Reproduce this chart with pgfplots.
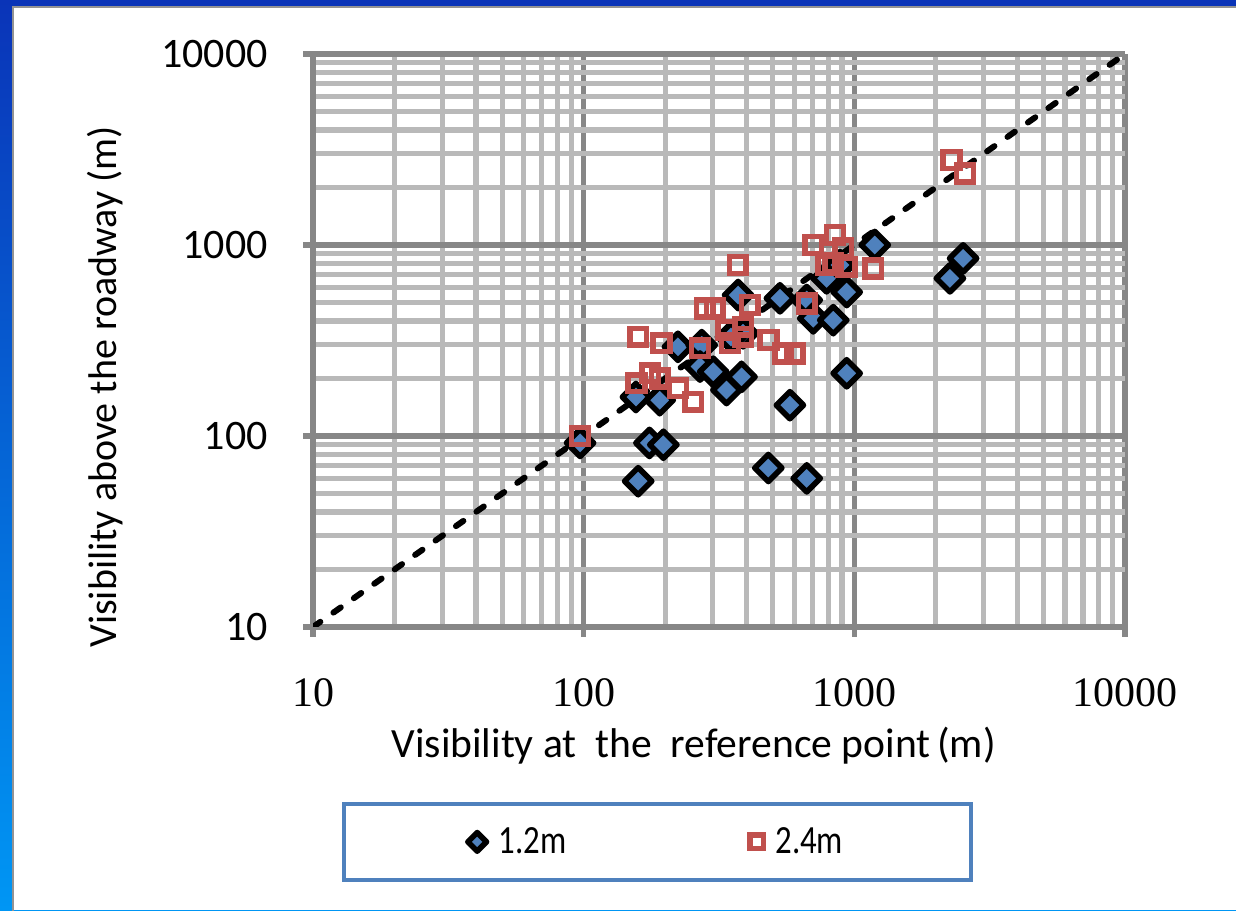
\documentclass[border=0pt]{standalone}
\usepackage{fontspec}
\setmainfont{Carlito}
\newfontfamily\serifnum{Liberation Serif}
\newfontfamily\legfont[FakeStretch=0.82]{Carlito}
\usepackage{pgfplots}
\pgfplotsset{compat=1.18}
\definecolor{excelblue}{HTML}{4F81BD}
\definecolor{excelred}{HTML}{C0504D}
\definecolor{majgray}{HTML}{878787}
\definecolor{mingray}{HTML}{B9B9B9}
\definecolor{bgdark}{HTML}{0A34B8}
\definecolor{bglight}{HTML}{0096F4}

\pgfplotstableread{
x y
97 92
159 58
175 92
197 90
156 160
191 154
223 293
273 299
269 231
301 217
337 174
383 204
372 547
388 345
350 330
531 526
578 145
481 68
667 60
667 515
705 413
836 404
790 669
937 567
937 213
1190 1000
885 785
2523 851
2255 669
}\lowdata

\pgfplotstableread{
x y
97 100
159 331
194 306
157 189
176 213
191 200
223 178
254 151
269 288
280 466
305 466
337 359
347 306
388 373
388 331
411 485
371 785
481 318
546 271
603 271
667 495
705 1000
848 1128
790 785
836 802
910 961
937 769
1175 755
2285 2786
2565 2371
}\highdata

\begin{document}
\begin{tikzpicture}
\shade[top color=bgdark, bottom color=bglight] (0,0) rectangle (618pt,455pt);
\fill[white] (6.5pt,0) rectangle (618pt,451.5pt);
\draw[gray!85, line width=1pt] (6.5pt,-1pt) -- (6.5pt,451.5pt) -- (620pt,451.5pt);
\begin{axis}[
  at={(156.5pt,141.5pt)}, anchor=south west,
  scale only axis, width=406pt, height=286.5pt,
  xmode=log, ymode=log,
  xmin=10, xmax=10000, ymin=10, ymax=10000,
  log ticks with fixed point,
  /pgf/number format/1000 sep={},
  /pgf/number format/assume math mode=true,
  grid=both,
  major grid style={majgray, line width=2.7pt},
  minor grid style={mingray, line width=2.6pt},
  axis x line*=bottom, axis y line*=left,
  axis line style={majgray, line width=2.7pt, -},
  tick align=outside, major tick length=5pt, minor tick length=0pt,
  major tick style={majgray, line width=2.7pt},
  xticklabel style={font=\serifnum\fontsize{21}{21}\selectfont, inner sep=0pt, anchor=north},
  yticklabel style={font=\fontsize{21}{21}\selectfont, inner sep=0pt, anchor=east},
  xticklabel shift=20.5pt, yticklabel shift=17.5pt,
  xlabel={Visibility at\ \ the\ \ reference point\,(m)},
  ylabel={Visibility above the roadway (m)},
  xlabel style={font=\fontsize{20.8}{20.8}\selectfont, at={(axis description cs:0.469,-0.227)}, anchor=base},
  ylabel style={font=\fontsize{20}{20}\selectfont, at={(axis description cs:-0.256,0.419)}, anchor=center},
  legend columns=2,
  legend style={at={(0.4243,-0.375)}, anchor=center, draw=excelblue, line width=2pt,
    inner xsep=62pt, inner ysep=9.75pt, font=\legfont\fontsize{20}{20}\selectfont,
    /tikz/every even column/.append style={column sep=90pt}},
]
\addplot[black, line width=3pt, line cap=round, dash pattern=on 4.5pt off 8pt, forget plot]
  coordinates {(10,10) (10000,10000)};
\addplot[only marks, mark=square*, mark size=4.8pt,
  mark options={rotate=45, fill=excelblue, draw=black, line width=2.8pt, line join=round},
  legend image post style={mark size=3.3pt}]
  table[x=x, y=y] {\lowdata};
\addlegendentry{\hspace{4pt}1.2m}
\addplot[only marks, mark=square, mark size=4.2pt,
  mark options={draw=excelred, line width=2.8pt},
  legend image post style={mark size=3.3pt}]
  table[x=x, y=y] {\highdata};
\addlegendentry{\hspace{4pt}2.4m}
\end{axis}
\pgfresetboundingbox
\path[use as bounding box] (0,0) rectangle (618pt,455pt);
\end{tikzpicture}
\end{document}
